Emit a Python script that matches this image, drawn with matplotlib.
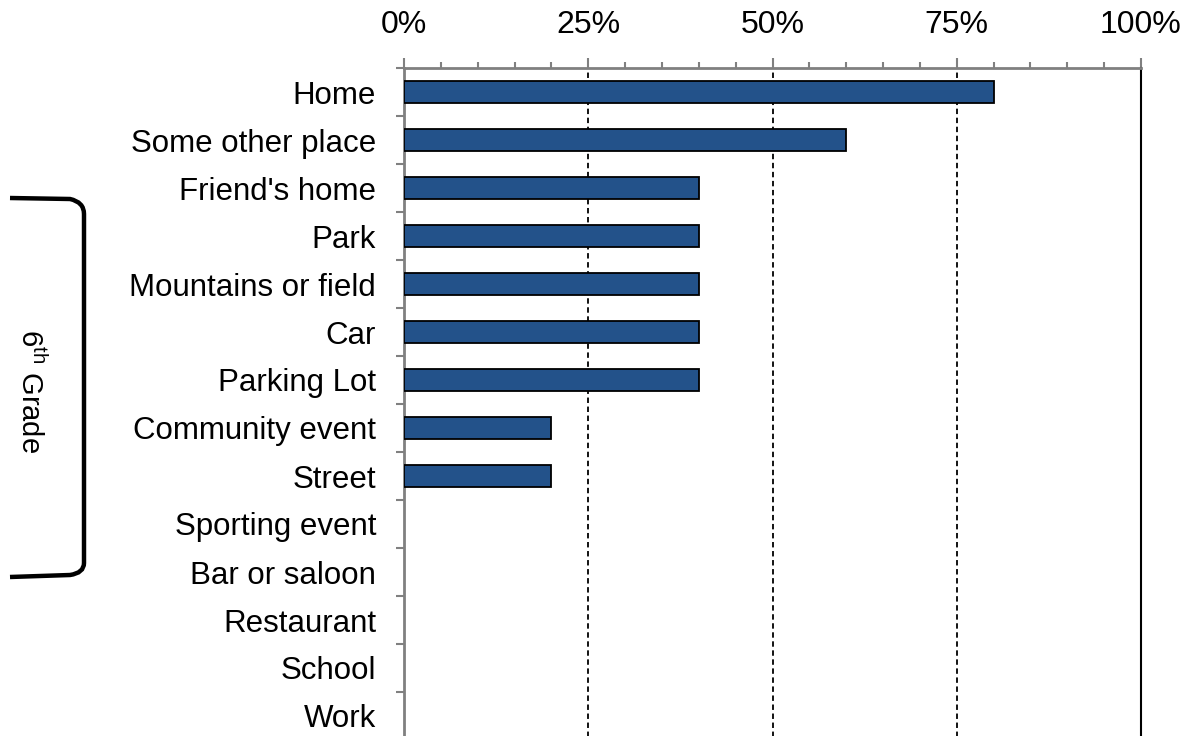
import matplotlib
matplotlib.use("Agg")
import matplotlib.pyplot as plt
from matplotlib.path import Path
from matplotlib.patches import PathPatch
import numpy as np

plt.rcParams['font.family'] = ['Liberation Sans', 'DejaVu Sans']
plt.rcParams['mathtext.fontset'] = 'custom'
plt.rcParams['mathtext.rm'] = 'Liberation Sans'

categories = ["Home", "Some other place", "Friend's home", "Park", "Mountains or field",
              "Car", "Parking Lot", "Community event", "Street", "Sporting event",
              "Bar or saloon", "Restaurant", "School", "Work"]
values = [80, 60, 40, 40, 40, 40, 40, 20, 20, 0, 0, 0, 0, 0]
xticks = [0, 25, 50, 75, 100]
xticklabels = ["0%", "25%", "50%", "75%", "100%"]

W, H = 1190, 736
fig = plt.figure(figsize=(W/100, H/100), dpi=100)
ax = fig.add_axes([404/W, 1 - 740/H, (1141-404)/W, (740-68)/H])

n = len(categories)
y = np.arange(n)
edges = ['black' if v > 0 else 'none' for v in values]
ax.barh(y, values, height=0.44, color='#23528A', edgecolor=edges, linewidth=1.3, zorder=3)

ax.set_xlim(0, 100)
ax.set_ylim(n - 0.5, -0.5)

# gridlines
for g in [25, 50, 75]:
    ax.axvline(g, color='black', linestyle=(0, (3, 2)), linewidth=1.3, zorder=2)

ax.xaxis.set_ticks_position('top')
ax.xaxis.set_label_position('top')
ax.set_xticks(xticks)
ax.set_xticklabels(xticklabels, fontsize=23)
ax.set_xticks(np.arange(0, 101, 5), minor=True)
ax.tick_params(axis='x', which='major', direction='out', length=7, width=1.5, color='#808080', pad=13)
ax.tick_params(axis='x', which='minor', direction='out', length=4, width=1.5, color='#808080')

ax.set_yticks(np.arange(-0.5, n, 1.0))
ax.set_yticklabels([])
ax.set_yticks(y, minor=True)
ax.set_yticklabels(categories, minor=True, fontsize=22.5)
ax.tick_params(axis='y', which='major', direction='out', length=6, width=1.5, color='#808080')
ax.tick_params(axis='y', which='minor', length=0, pad=20)

ax.spines['bottom'].set_visible(False)
ax.spines['top'].set_color('#808080')
ax.spines['top'].set_linewidth(2)
ax.spines['left'].set_color('#808080')
ax.spines['left'].set_linewidth(2)
ax.spines['right'].set_color('black')
ax.spines['right'].set_linewidth(1.5)

# bracket in pixel coords
def px(xp, yp):
    return (xp / W, 1 - yp / H)

verts = [px(10, 198), px(70, 199), px(84, 202), px(84, 214),
         px(84, 563), px(84, 573), px(70, 575), px(10, 577)]
codes = [Path.MOVETO, Path.LINETO, Path.CURVE3, Path.CURVE3,
         Path.LINETO, Path.CURVE3, Path.CURVE3, Path.LINETO]
fig.patches.append(PathPatch(Path(verts, codes), transform=fig.transFigure,
                             fill=False, edgecolor='black', linewidth=3.2))

fig.text(30/W, 1 - 391/H, "6$^{\\mathrm{th}}$ Grade", rotation=270, fontsize=21,
         ha='center', va='center')

fig.savefig("out.png", dpi=100)
